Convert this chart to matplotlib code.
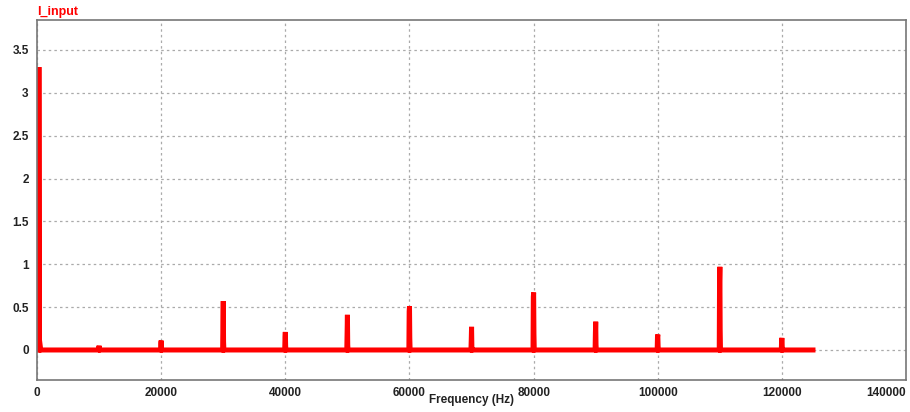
import numpy as np
import matplotlib
matplotlib.use("Agg")
import matplotlib.pyplot as plt

plt.rcParams['font.family'] = ['Liberation Sans', 'DejaVu Sans']

# DC component at the start of the spectrum
dc_freqs = [300, 300, 350, 600]
dc_amps = [0.0, 3.3, 0.14, 0.0]

# harmonics (Hz), peak amplitude and the side bin amplitude
harm_freqs = [10000, 20000, 30000, 40000, 50000, 60000, 70000, 80000, 90000, 100000, 110000, 120000]
harm_peaks = [0.05, 0.11, 0.57, 0.21, 0.41, 0.51, 0.27, 0.67, 0.33, 0.18, 0.97, 0.14]
harm_side = [0.03, 0.08, 0.32, 0.15, 0.20, 0.45, 0.12, 0.62, 0.20, 0.15, 0.80, 0.12]
f_end = 125000
bin_w = 100

# build the spectrum line
fx = list(dc_freqs)
fy = list(dc_amps)
for f, p, s in zip(harm_freqs, harm_peaks, harm_side):
    fx += [f - bin_w, f - bin_w / 2, f, f + bin_w / 2, f + bin_w]
    fy += [0.0, s, p, s * 0.3, 0.0]
fx.append(f_end)
fy.append(0.0)

fig = plt.figure(figsize=(9.10, 4.12), dpi=100)
ax = fig.add_axes([0.0407, 0.0777, 0.955, 0.874])
ax.plot(fx, fy, color='#ff0000', lw=3.6, solid_joinstyle='miter')

ax.set_xlim(0, 140000)
ax.set_ylim(-0.35, 3.85)
ax.set_xticks(np.arange(0, 140001, 20000))
ax.set_yticks(np.arange(0, 3.51, 0.5))
ax.set_yticklabels(['0', '0.5', '1', '1.5', '2', '2.5', '3', '3.5'])
ax.grid(True, color='#aaaaaa', ls=(0, (2, 2.5)), lw=0.9)
ax.tick_params(axis='y', length=0, labelsize=8.5, pad=6)
ax.tick_params(axis='x', length=0, labelsize=8.5, pad=5)
for lab in ax.get_xticklabels() + ax.get_yticklabels():
    lab.set_fontweight('bold')
    lab.set_color('#222222')
ax.get_xticklabels()[-1].set_ha('right')
for sp in ax.spines.values():
    sp.set_color('#777777')
    sp.set_linewidth(1.2)

ax.set_xlabel('Frequency (Hz)', fontsize=8.5, fontweight='bold', color='#222222')
ax.xaxis.set_label_coords(0.5, -0.055)
ax.xaxis.label.set_va('center')
ax.text(0, 1.005, 'I_input', transform=ax.transAxes, color='#ff0000',
        fontsize=9, fontweight='bold', ha='left', va='bottom')

fig.savefig('out.png', dpi=100)
